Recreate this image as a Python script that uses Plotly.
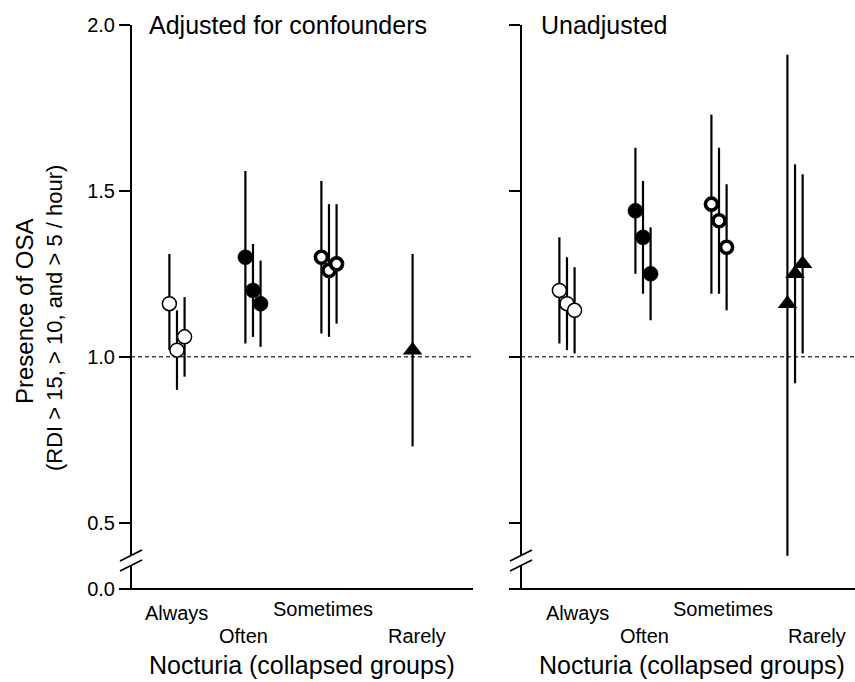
import plotly.graph_objects as go

# ---------------- data ----------------
categories = ["Always", "Often", "Sometimes", "Rarely"]
series_names = ["RDI > 15", "RDI > 10", "RDI > 5"]

# Adjusted for confounders: estimate, lower CI, upper CI (per category, 3 series)
adj_est = {
    "Always":    [1.16, 1.02, 1.06],
    "Often":     [1.30, 1.20, 1.16],
    "Sometimes": [1.30, 1.26, 1.28],
    "Rarely":    [None, None, 1.02],
}
adj_lo = {
    "Always":    [1.02, 0.90, 0.94],
    "Often":     [1.04, 1.06, 1.03],
    "Sometimes": [1.07, 1.06, 1.10],
    "Rarely":    [None, None, 0.73],
}
adj_hi = {
    "Always":    [1.31, 1.14, 1.18],
    "Often":     [1.56, 1.34, 1.29],
    "Sometimes": [1.53, 1.46, 1.46],
    "Rarely":    [None, None, 1.31],
}

# Unadjusted
una_est = {
    "Always":    [1.20, 1.16, 1.14],
    "Often":     [1.44, 1.36, 1.25],
    "Sometimes": [1.46, 1.41, 1.33],
    "Rarely":    [1.16, 1.25, 1.28],
}
una_lo = {
    "Always":    [1.04, 1.02, 1.01],
    "Often":     [1.25, 1.19, 1.11],
    "Sometimes": [1.19, 1.19, 1.14],
    "Rarely":    [0.40, 0.92, 1.01],
}
una_hi = {
    "Always":    [1.36, 1.30, 1.27],
    "Often":     [1.63, 1.53, 1.39],
    "Sometimes": [1.73, 1.63, 1.52],
    "Rarely":    [1.91, 1.58, 1.55],
}

y_tickvals = [0.3, 0.5, 1.0, 1.5, 2.0]
y_ticktext = ["0.0", "0.5", "1.0", "1.5", "2.0"]

# ---------------- styling ----------------
W, H = 855, 682
FONT = "Liberation Sans, Arial, sans-serif"
offsets = [-0.1, 0.0, 0.1]
marker_styles = {
    "Always":    dict(symbol="circle", size=14, color="white", line=dict(color="black", width=1.5)),
    "Often":     dict(symbol="circle", size=15, color="black", line=dict(color="black", width=0.5)),
    "Sometimes": dict(symbol="circle", size=12, color="white", line=dict(color="black", width=3.6)),
    "Rarely":    dict(symbol="triangle-up", size=17, color="black", line=dict(color="black", width=0)),
}

# pixel geometry
L_AX, L_END = 131, 473
R_AX, R_END = 521, 855
TOP, BOT = 25, 589


def px_x(px):
    return px / W


def px_y(py):
    return (BOT - py) / (BOT - TOP)


fig = go.Figure()


def add_panel(est, lo, hi, xa, ya):
    for ci, cat in enumerate(categories):
        xs, ys, up, dn = [], [], [], []
        for si in range(3):
            e = est[cat][si]
            if e is None:
                continue
            xs.append(ci + offsets[si])
            ys.append(e)
            up.append(hi[cat][si] - e)
            dn.append(e - lo[cat][si])
        fig.add_trace(go.Scatter(
            x=xs, y=ys, mode="markers", name=cat, showlegend=False,
            xaxis=xa, yaxis=ya,
            marker=marker_styles[cat],
            error_y=dict(type="data", symmetric=False, array=up, arrayminus=dn,
                         thickness=2.2, width=0, color="black"),
        ))


add_panel(adj_est, adj_lo, adj_hi, "x", "y")
add_panel(una_est, una_lo, una_hi, "x2", "y2")

axis_common_x = dict(showticklabels=False, showline=False, zeroline=False,
                     showgrid=False, ticks="", fixedrange=True)
axis_common_y = dict(range=[0.3, 2.0], tickvals=y_tickvals, ticktext=y_ticktext,
                     ticks="outside", ticklen=11, tickwidth=2, tickcolor="black",
                     showline=False, zeroline=False, showgrid=False,
                     tickfont=dict(family=FONT, size=20, color="black"))

fig.update_layout(
    width=W, height=H,
    margin=dict(l=0, r=0, t=TOP, b=H - BOT, pad=0),
    paper_bgcolor="white", plot_bgcolor="white",
    font=dict(family=FONT, color="black"),
    xaxis=dict(domain=[px_x(L_AX), px_x(L_END)], range=[-0.605, 3.895], **axis_common_x),
    xaxis2=dict(domain=[px_x(R_AX), 1.0], range=[-0.605, 3.789], anchor="y2", **axis_common_x),
    yaxis=dict(anchor="x", showticklabels=True, **axis_common_y),
    yaxis2=dict(anchor="x2", showticklabels=False, **axis_common_y),
)

shapes = []
for ax_px, end_px, xd in [(L_AX, L_END, "x"), (R_AX, R_END, "x2")]:
    # y-axis line with break
    shapes.append(dict(type="line", xref="paper", yref="paper",
                       x0=px_x(ax_px), x1=px_x(ax_px), y0=px_y(TOP), y1=px_y(555),
                       line=dict(color="black", width=2)))
    shapes.append(dict(type="line", xref="paper", yref="paper",
                       x0=px_x(ax_px), x1=px_x(ax_px), y0=px_y(566), y1=px_y(BOT),
                       line=dict(color="black", width=2)))
    # break marks
    for dy in (0, 10):
        shapes.append(dict(type="line", xref="paper", yref="paper",
                           x0=px_x(ax_px - 11), y0=px_y(561 + dy),
                           x1=px_x(ax_px + 11), y1=px_y(550 + dy),
                           line=dict(color="black", width=1.8)))
    # x-axis line
    shapes.append(dict(type="line", xref="paper", yref="paper",
                       x0=px_x(ax_px - 11), x1=min(px_x(end_px), 1.0), y0=0, y1=0,
                       line=dict(color="black", width=2)))
    # reference line at 1.0
    shapes.append(dict(type="line", xref=f"{xd} domain", yref="y" if xd == "x" else "y2",
                       x0=0, x1=1, y0=1.0, y1=1.0, layer="below",
                       line=dict(color="#444444", width=1.3, dash="4px,3px")))
fig.update_layout(shapes=shapes)

ann = []
ann.append(dict(text="Adjusted for confounders", x=px_x(147), y=px_y(25), xref="paper", yref="paper",
                xanchor="left", yanchor="middle", showarrow=False, font=dict(size=25)))
ann.append(dict(text="Unadjusted", x=px_x(539), y=px_y(25), xref="paper", yref="paper",
                xanchor="left", yanchor="middle", showarrow=False, font=dict(size=25)))

# category labels (staggered)
label_pos = {
    "x":  {"Always": 176, "Often": 243, "Sometimes": 323, "Rarely": 417},
    "x2": {"Always": 577, "Often": 644, "Sometimes": 723, "Rarely": 817},
}
label_row = {"Always": 613, "Often": 636, "Sometimes": 609, "Rarely": 636}
for xd in ("x", "x2"):
    for cat in categories:
        ann.append(dict(text=cat, x=px_x(label_pos[xd][cat]), y=px_y(label_row[cat]),
                        xref="paper", yref="paper", xanchor="center", yanchor="middle",
                        showarrow=False, font=dict(size=20)))
    ann.append(dict(text="Nocturia (collapsed groups)",
                    x=px_x(302 if xd == "x" else 692), y=px_y(665),
                    xref="paper", yref="paper", xanchor="center", yanchor="middle",
                    showarrow=False, font=dict(size=25)))

ann.append(dict(text="Presence of OSA", x=px_x(24), y=px_y(312), xref="paper", yref="paper",
                xanchor="center", yanchor="middle", textangle=-90, showarrow=False,
                font=dict(size=24)))
ann.append(dict(text="(RDI > 15, > 10, and > 5 / hour)", x=px_x(55), y=px_y(318), xref="paper",
                yref="paper", xanchor="center", yanchor="middle", textangle=-90,
                showarrow=False, font=dict(size=22)))
fig.update_layout(annotations=ann)

fig.write_html("out.html", config={"displayModeBar": False},
               post_script="document.body.style.margin='0px';")
